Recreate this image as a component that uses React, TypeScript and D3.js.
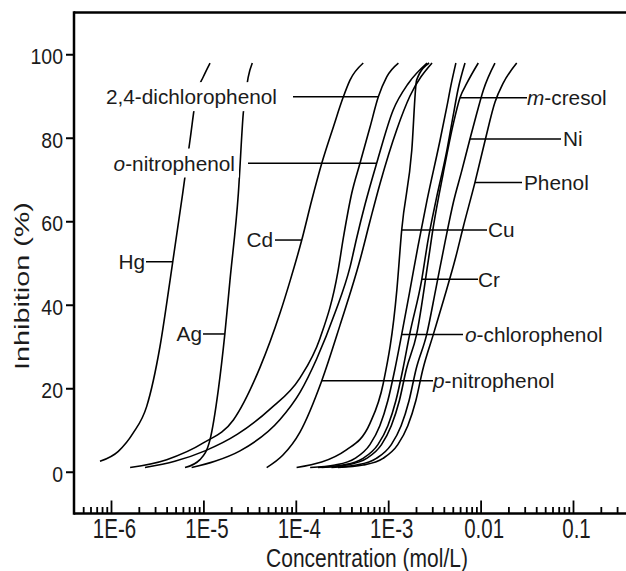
import React, { useEffect, useRef } from 'react';
import * as d3 from 'd3';

// curves: [concentration (mol/L), inhibition (%)]
const hg = [[7.6e-7, 2.5], [1.2e-6, 4.9], [1.74e-6, 9.3], [2.43e-6, 15.6], [3.39e-6, 30], [4.36e-6, 45.9], [5.97e-6, 66.7], [7.16e-6, 79.4], [8.45e-6, 90.6], [9.98e-6, 94.6], [1.18e-5, 97.9]];
const ag = [[6.32e-6, 1], [9.18e-6, 2.9], [1.18e-5, 7.7], [1.45e-5, 19.6], [1.71e-5, 33.2], [1.94e-5, 45.9], [2.39e-5, 66.7], [2.7e-5, 85.8], [3.06e-5, 94.6], [3.38e-5, 97.9]];
const cd = [[1.61e-6, 1], [4.01e-6, 2.9], [9.98e-6, 6.9], [2.11e-5, 12.4], [4.1e-5, 25], [6.75e-5, 38], [8.72e-5, 45.9], [1.16e-4, 55.5], [1.49e-4, 65.1], [1.91e-4, 73.9], [2.55e-4, 82.6], [3.27e-4, 89.8], [3.86e-4, 93.8], [5.37e-4, 97.9]];
const dcp = [[2.33e-6, 1], [4.9e-6, 2.5], [1.04e-5, 5], [2.34e-5, 9], [5.26e-5, 15], [1.11e-4, 22.5], [1.83e-4, 32], [2.86e-4, 48], [3.27e-4, 56], [4.03e-4, 66.7], [4.95e-4, 73.9], [6.35e-4, 82.5], [7.82e-4, 89.8], [9.64e-4, 94.6], [1.29e-3, 97.9]];
const oNitro = [[7.46e-6, 1], [1.33e-5, 2.5], [2.49e-5, 5], [6.75e-5, 12.5], [1.11e-4, 19], [1.68e-4, 27], [2.65e-4, 38], [3.86e-4, 49], [4.56e-4, 56], [5.61e-4, 64], [7.5e-4, 73.9], [1.13e-3, 86.6], [1.65e-3, 93], [2.63e-3, 97.9]];
const pNitro = [[4.84e-5, 1], [7.26e-5, 4], [1.11e-4, 9.5], [1.91e-4, 21.8], [3.0e-4, 35], [4.95e-4, 50.7], [6.35e-4, 60], [8.15e-4, 69], [1.24e-3, 82], [1.72e-3, 90], [2.98e-3, 97.9]];
const cu = [[1.02e-4, 1], [3.56e-4, 5.3], [6.35e-4, 11.6], [8.85e-4, 21.2], [1.24e-3, 43.5], [1.4e-3, 57.9], [1.8e-3, 77], [2.03e-3, 93.8], [2.77e-3, 97.9]];
const oChloro = [[1.43e-4, 1], [2.66e-4, 1.6], [4.37e-4, 3.2], [6.34e-4, 6.5], [8.12e-4, 11], [9.9e-4, 17], [1.18e-3, 24.5], [1.4e-3, 32.9], [1.72e-3, 43.5], [2.1e-3, 54], [2.63e-3, 65], [3.64e-3, 79.4], [4.32e-3, 87.5], [4.77e-3, 92.5], [5.4e-3, 97.9]];
const cr = [[1.74e-4, 1], [3.25e-4, 1.6], [5.34e-4, 3.2], [7.74e-4, 6.5], [9.92e-4, 11], [1.21e-3, 17], [1.44e-3, 24.5], [1.71e-3, 33], [2.31e-3, 46.1], [2.7e-3, 55.5], [3.29e-3, 65], [4.32e-3, 77], [5.02e-3, 85], [5.69e-3, 91.5], [6.78e-3, 97.9]];
const mCresol = [[1.9e-4, 1], [3.55e-4, 1.6], [5.84e-4, 3.2], [8.46e-4, 6.5], [1.08e-3, 11], [1.32e-3, 17], [1.57e-3, 24.5], [2.03e-3, 32.9], [2.72e-3, 50.7], [3.08e-3, 58.7], [3.94e-3, 71.5], [5.07e-3, 83.4], [5.98e-3, 89.6], [7.08e-3, 93], [9.44e-3, 97.9]];
const ni = [[2.43e-4, 1], [4.53e-4, 1.6], [7.44e-4, 3.2], [1.08e-3, 6.5], [1.38e-3, 11], [1.68e-3, 17], [2.0e-3, 24.5], [2.61e-3, 32.9], [3.29e-3, 44], [4.12e-3, 55], [5.07e-3, 64.5], [6.24e-3, 72], [7.67e-3, 79.7], [9.08e-3, 85.8], [1.07e-2, 91.4], [1.43e-2, 97.9]];
const phenol = [[2.86e-4, 1], [5.35e-4, 1.6], [8.79e-4, 3.2], [1.27e-3, 6.5], [1.63e-3, 11], [1.99e-3, 17], [2.37e-3, 24.5], [3.08e-3, 32.9], [4.02e-3, 41.5], [5.28e-3, 50.7], [6.5e-3, 58.7], [8.69e-3, 69.3], [1.12e-2, 79.4], [1.43e-2, 88.5], [1.75e-2, 93], [2.46e-2, 97.9]];

const seriesNames = ['Hg', 'Ag', 'Cd', '2,4-dichlorophenol', 'o-nitrophenol', 'p-nitrophenol', 'Cu', 'o-chlorophenol', 'Cr', 'm-cresol', 'Ni', 'Phenol'];
const seriesData = [hg, ag, cd, dcp, oNitro, pNitro, cu, oChloro, cr, mCresol, ni, phenol];
// inhibition level where each label's leader line meets its curve
const labelLevels = [50.3, 33, 55.5, 89.8, 73.9, 21.8, 57.9, 32.9, 46.1, 89.6, 79.7, 69.3];

const yTicks = [0, 20, 40, 60, 80, 100];
const xMajor = [1e-6, 1e-5, 1e-4, 1e-3, 0.01, 0.1];
const xTickLabels = ['1E-6', '1E-5', '1E-4', '1E-3', '0.01', '0.1'];

// label placement: side, text x, leader-line x (pixels)
const labelPlace: [string, number, number][] = [
  ['left', 145, 146], ['left', 202, 203], ['left', 273, 275], ['left', 277, 293], ['left', 235, 248],
  ['right', 433, 433], ['right', 488, 487], ['right', 465, 463], ['right', 478, 478],
  ['right', 527, 527], ['right', 563, 561], ['right', 524, 522],
];

const FONT = '"Liberation Sans", Arial, Helvetica, sans-serif';
const INK = '#1b1b1b';

const App = () => {
  const svgRef = useRef<SVGSVGElement>(null);

  useEffect(() => {
    const svg = d3.select(svgRef.current);
    svg.selectAll('*').remove();

    const left = 74, right = 626, top = 12.5, bottom = 513.5;
    const x = d3.scaleLog().domain([1e-6, 0.1]).range([111, 573]);
    const y = d3.scaleLinear().domain([-10, 110]).range([bottom, top]);

    svg.append('rect').attr('width', 626).attr('height', 571).attr('fill', '#fff');

    // frame: left, bottom, top
    const frame = svg.append('g').attr('stroke', '#000').attr('stroke-width', 2.5);
    frame.append('line').attr('x1', left).attr('x2', left).attr('y1', top - 1.2).attr('y2', bottom + 1.2);
    frame.append('line').attr('x1', left).attr('x2', right).attr('y1', bottom).attr('y2', bottom);
    frame.append('line').attr('x1', left).attr('x2', right).attr('y1', top).attr('y2', top);

    // y axis
    const gy = svg.append('g').attr('transform', `translate(${left},0)`)
      .call(d3.axisLeft(y).tickValues(yTicks).tickSize(8).tickSizeOuter(0));
    gy.select('.domain').remove();
    gy.selectAll('line').attr('stroke', '#000').attr('stroke-width', 2);
    gy.selectAll('text')
      .attr('x', -11).attr('dy', null).attr('y', null)
      .attr('dominant-baseline', 'central')
      .attr('transform', 'translate(0,1.5) scale(1,1.1)')
      .style('font-family', FONT).style('font-size', '19.5px').attr('fill', INK);

    // x axis minor ticks
    const xMinor: number[] = [];
    for (let e = -7; e <= -1; e++) {
      for (let m = 2; m <= 9; m++) {
        const v = m * Math.pow(10, e);
        if (x(v) > left + 3 && x(v) < right) xMinor.push(v);
      }
    }
    const gxm = svg.append('g').attr('transform', `translate(0,${bottom})`)
      .call(d3.axisBottom(x).tickValues(xMinor).tickSize(-6.5).tickSizeOuter(0).tickFormat(() => ''));
    gxm.select('.domain').remove();
    gxm.selectAll('line').attr('stroke', '#000').attr('stroke-width', 1.8);

    const gx = svg.append('g').attr('transform', `translate(0,${bottom})`)
      .call(d3.axisBottom(x).tickValues(xMajor).tickSize(-13).tickSizeOuter(0)
        .tickFormat((d, i) => xTickLabels[i]));
    gx.select('.domain').remove();
    gx.selectAll('line').attr('stroke', '#000').attr('stroke-width', 1.8);
    gx.selectAll('text')
      .attr('y', 0).attr('dy', null)
      .attr('transform', 'translate(3,24) scale(1,1.32)')
      .style('font-family', FONT).style('font-size', '20.5px').attr('fill', INK);

    // axis titles
    svg.append('text')
      .attr('transform', 'translate(367,566.5) scale(1,1.2)')
      .attr('text-anchor', 'middle')
      .style('font-family', FONT).style('font-size', '21px').attr('fill', INK)
      .text('Concentration (mol/L)');
    svg.append('text')
      .attr('transform', 'translate(21,286) rotate(-90) scale(1.37,1)')
      .attr('text-anchor', 'middle').attr('dominant-baseline', 'central')
      .style('font-family', FONT).style('font-size', '21px').attr('fill', INK)
      .text('Inhibition (%)');

    // curves
    const line = d3.line<number[]>()
      .x(d => x(d[0]))
      .y(d => y(d[1]))
      .curve(d3.curveMonotoneX);

    const paths = seriesData.map(s =>
      svg.append('path')
        .attr('d', line(s))
        .attr('fill', 'none')
        .attr('stroke', '#000')
        .attr('stroke-width', 1.6)
        .node() as SVGPathElement);

    const xAtLevel = (path: SVGPathElement, yt: number) => {
      const L = path.getTotalLength();
      let prev = path.getPointAtLength(0);
      for (let s = 0.5; s <= L; s += 0.5) {
        const p = path.getPointAtLength(s);
        if ((prev.y - yt) * (p.y - yt) <= 0) {
          const t = prev.y === p.y ? 0 : (prev.y - yt) / (prev.y - p.y);
          return prev.x + t * (p.x - prev.x);
        }
        prev = p;
      }
      return prev.x;
    };

    // labels with white boxes and leader lines
    const gl = svg.append('g');
    seriesNames.forEach((name, i) => {
      const [side, tx, lx] = labelPlace[i];
      const ly = y(labelLevels[i]);
      const cx = xAtLevel(paths[i], ly);
      const g = gl.append('g');
      const rect = g.append('rect').attr('fill', '#fff');
      const t = g.append('text')
        .attr('x', tx).attr('y', ly + 7.3)
        .attr('text-anchor', side === 'left' ? 'end' : 'start')
        .style('font-family', FONT).style('font-size', '20.8px').attr('fill', INK);
      const m = name.match(/^([omp])-(.*)$/);
      if (m) {
        t.append('tspan').style('font-style', 'italic').text(m[1]);
        t.append('tspan').text('-' + m[2]);
      } else {
        t.text(name);
      }
      const bb = (t.node() as SVGTextElement).getBBox();
      rect.attr('x', bb.x - 4).attr('y', bb.y - 3).attr('width', bb.width + 8).attr('height', bb.height + 6);
      g.append('line')
        .attr('x1', side === 'left' ? lx : cx)
        .attr('x2', side === 'left' ? cx : lx)
        .attr('y1', ly).attr('y2', ly)
        .attr('stroke', '#000').attr('stroke-width', 1.5);
    });
  }, []);

  return (
    <svg
      ref={svgRef}
      width={626}
      height={571}
      style={{ position: 'absolute', left: 0, top: 0, display: 'block' }}
    />
  );
};

export default App;
